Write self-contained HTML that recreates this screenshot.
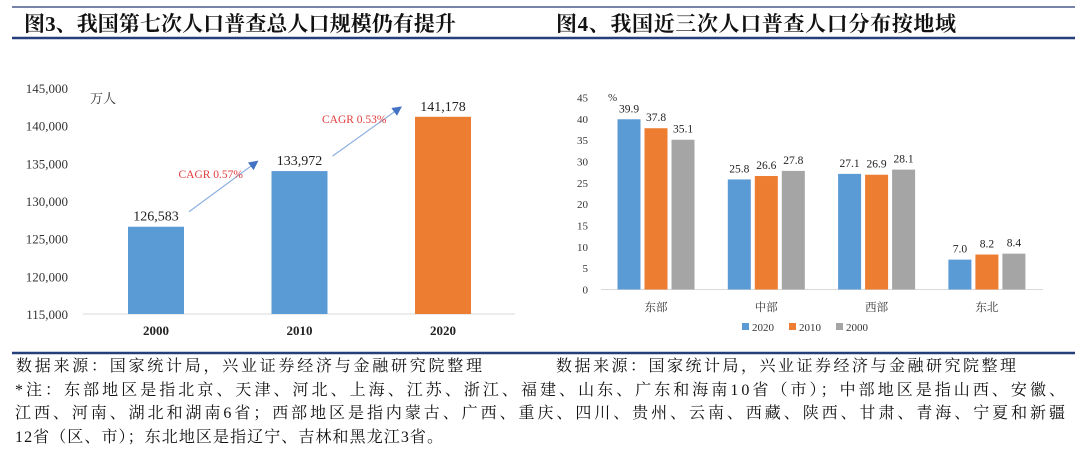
<!DOCTYPE html>
<html><head><meta charset="utf-8"><style>
body{margin:0;background:#fff;}
svg{display:block;font-family:"Liberation Serif","Noto Serif CJK SC",serif;}
</style></head><body>
<svg id="s" width="1080" height="450" viewBox="0 0 1080 450" xmlns="http://www.w3.org/2000/svg">
<line x1="12" y1="7" x2="1075" y2="7" stroke="#4a5a8a" stroke-width="1.5"/>
<line x1="12" y1="38" x2="1075" y2="38" stroke="#253f7a" stroke-width="2.5"/>
<text x="24" y="31" font-size="21" font-weight="bold" fill="#111" textLength="432">图3、我国第七次人口普查总人口规模仍有提升</text>
<text x="556" y="31" font-size="21" font-weight="bold" fill="#111" textLength="400">图4、我国近三次人口普查人口分布按地域</text>
<g id="c1"></g>
<g id="c2"></g>
<line x1="12" y1="353" x2="1075" y2="353" stroke="#253f7a" stroke-width="2.5"/>
<g font-size="16" fill="#111">
<text x="16" y="371" textLength="466">数据来源：国家统计局，兴业证券经济与金融研究院整理</text>
<text x="556" y="371" textLength="460">数据来源：国家统计局，兴业证券经济与金融研究院整理</text>
<text x="15" y="395" textLength="1050">*注：东部地区是指北京、天津、河北、上海、江苏、浙江、福建、山东、广东和海南10省（市）；中部地区是指山西、安徽、</text>
<text x="15" y="418" textLength="1050">江西、河南、湖北和湖南6省；西部地区是指内蒙古、广西、重庆、四川、贵州、云南、西藏、陕西、甘肃、青海、宁夏和新疆</text>
<text x="15" y="442" textLength="428">12省（区、市）；东北地区是指辽宁、吉林和黑龙江3省。</text>
</g>
</svg>
<script>
const years1=["2000","2010","2020"];
const pop=[126583,133972,141178];
const ticks1=[115000,120000,125000,130000,135000,140000,145000];
const cagr=["CAGR 0.57%","CAGR 0.53%"];
const regions=["东部","中部","西部","东北"];
const s2020=[39.9,25.8,27.1,7.0];
const s2010=[37.8,26.6,26.9,8.2];
const s2000=[35.1,27.8,28.1,8.4];
const seriesNames=["2020","2010","2000"];
const ticks2=[0,5,10,15,20,25,30,35,40,45];
const NS="http://www.w3.org/2000/svg";
function mk(p,t,a,txt){const e=document.createElementNS(NS,t);for(const k in a)e.setAttribute(k,a[k]);if(txt!=null)e.textContent=txt;p.appendChild(e);return e;}
function fmt(v){return v.toLocaleString('en-US');}
// chart 1
const g1=document.getElementById('c1');
const y1=v=>314-(v-115000)/30000*226;
const x1=i=>156+i*143.5;
mk(g1,'line',{x1:83,y1:314,x2:515,y2:314,stroke:'#d9d9d9'});
ticks1.forEach(t=>{const e=mk(g1,'text',{x:68,y:y1(t)+5,'font-size':13,'text-anchor':'end',fill:'#333'},fmt(t));
});
const u=mk(g1,'text',{x:90,y:103,'font-size':13,fill:'#333'},'万人');

const cols1=['#5b9bd5','#5b9bd5','#ed7d31'];
years1.forEach((yr,i)=>{
 const r=mk(g1,'rect',{x:x1(i)-28,y:y1(pop[i]),width:56,height:314-y1(pop[i]),fill:cols1[i]});
 
 const v=mk(g1,'text',{x:x1(i),y:y1(pop[i])-6,'font-size':14,'text-anchor':'middle',fill:'#222'},fmt(pop[i]));
 
 const c=mk(g1,'text',{x:x1(i),y:335,'font-size':13,'font-weight':'bold','text-anchor':'middle',fill:'#222'},yr);
 
});
mk(g1,'defs',{}).innerHTML='<marker id="ar" markerWidth="8" markerHeight="8" refX="6" refY="4" orient="auto"><path d="M0,0L8,4L0,8z" fill="#4472c4"/></marker>';
for(let i=0;i<2;i++){
 const xa=x1(i)+33,ya=y1(pop[i])-15,xb=x1(i+1)-43,yb=y1(pop[i+1])-9;
 const l=mk(g1,'line',{x1:xa,y1:ya,x2:xb,y2:yb,stroke:'#8fb0e0','stroke-width':1.2,'marker-end':'url(#ar)'});
 
 const t=mk(g1,'text',{x:(xa+xb)/2-12,y:(ya+yb)/2-9,'font-size':11.5,'text-anchor':'middle',fill:'#e03c3c'},cagr[i]);
 
}
// chart 2
const g2=document.getElementById('c2');
const y2=v=>289.5-v/45*192;
const gx=i=>656+i*110.3;
const cols2=['#5b9bd5','#ed7d31','#a5a5a5'];
const series=[s2020,s2010,s2000];
mk(g2,'line',{x1:601,y1:289.5,x2:1043,y2:289.5,stroke:'#d9d9d9'});
ticks2.forEach(t=>{const e=mk(g2,'text',{x:588,y:y2(t)+4,'font-size':11,'text-anchor':'end',fill:'#333'},t);
});
const pc=mk(g2,'text',{x:608,y:101,'font-size':11,fill:'#333'},'%');

regions.forEach((rg,i)=>{
 series.forEach((s,j)=>{
  const x=gx(i)-38.5+j*27;
  const r=mk(g2,'rect',{x:x,y:y2(s[i]),width:23,height:289.5-y2(s[i]),fill:cols2[j]});
  
  const v=mk(g2,'text',{x:x+11.5,y:y2(s[i])-7,'font-size':11.5,'text-anchor':'middle',fill:'#222'},s[i].toFixed(1));
  
 });
 const c=mk(g2,'text',{x:gx(i),y:311,'font-size':11.5,'text-anchor':'middle',fill:'#333'},rg);
 
});
seriesNames.forEach((n,j)=>{
 const x=742+j*47;
 const r=mk(g2,'rect',{x:x,y:323,width:7,height:7,fill:cols2[j]});
 
 const t=mk(g2,'text',{x:x+10,y:331,'font-size':11,fill:'#333'},n);
 
});
</script>
</body></html>
